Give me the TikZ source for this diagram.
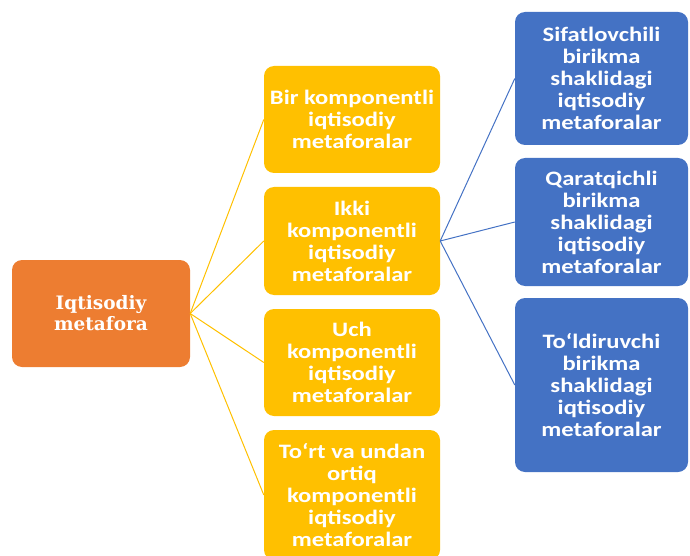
\documentclass[tikz,border=0pt]{standalone}
\usepackage{fontspec}
\newfontfamily\boxfont[FakeStretch=1.2]{Carlito}
\newfontfamily\rootfont{DejaVu Serif}
\definecolor{orangefill}{HTML}{ED7D31}
\definecolor{yellowfill}{HTML}{FFC000}
\definecolor{bluefill}{HTML}{4472C4}
\tikzset{
  basebox/.style={rectangle, rounded corners=10pt, draw=none, text=white, align=center, inner sep=2pt},
  rootbox/.style={basebox, fill=orangefill, minimum width=178pt, minimum height=107pt,
    font=\rootfont\bfseries\fontsize{18.5}{21}\selectfont},
  ybox/.style={basebox, fill=yellowfill, minimum width=176pt,
    font=\boxfont\bfseries\fontsize{20.5}{22}\selectfont},
  bbox/.style={basebox, fill=bluefill, minimum width=173pt,
    font=\boxfont\bfseries\fontsize{20.5}{22}\selectfont},
  yline/.style={draw=yellowfill, line width=1pt},
  bline/.style={draw=bluefill, line width=1pt}
}
\begin{document}
\begin{tikzpicture}[x=1pt,y=-1pt]
\useasboundingbox (0,0) rectangle (690,556);
\clip (0,0) rectangle (690,556);
\node[rootbox] (o) at (101,313.5) {Iqtisodiy\\metafora};
\node[ybox, minimum height=107pt] (y1) at (352,119.5) {Bir komponentli\\iqtisodiy\\metaforalar};
\node[ybox, minimum height=108pt] (y2) at (352,241) {Ikki\\komponentli\\iqtisodiy\\metaforalar};
\node[ybox, minimum height=107pt] (y3) at (352,362.5) {Uch\\komponentli\\iqtisodiy\\metaforalar};
\node[ybox, minimum height=130pt] (y4) at (352,495) {To‘rt va undan\\ortiq\\komponentli\\iqtisodiy\\metaforalar};
\node[bbox, minimum height=133pt] (b1) at (601.5,78.5) {Sifatlovchili\\birikma\\shaklidagi\\iqtisodiy\\metaforalar};
\node[bbox, minimum height=128pt] (b2) at (601.5,222) {Qaratqichli\\birikma\\shaklidagi\\iqtisodiy\\metaforalar};
\node[bbox, minimum height=174pt] (b3) at (601.5,385) {To‘ldiruvchi\\birikma\\shaklidagi\\iqtisodiy\\metaforalar};
\foreach \t in {y1,y2,y3,y4} \draw[yline] (o.east) -- (\t.west);
\foreach \t in {b1,b2,b3} \draw[bline] (y2.east) -- (\t.west);
\end{tikzpicture}
\end{document}
